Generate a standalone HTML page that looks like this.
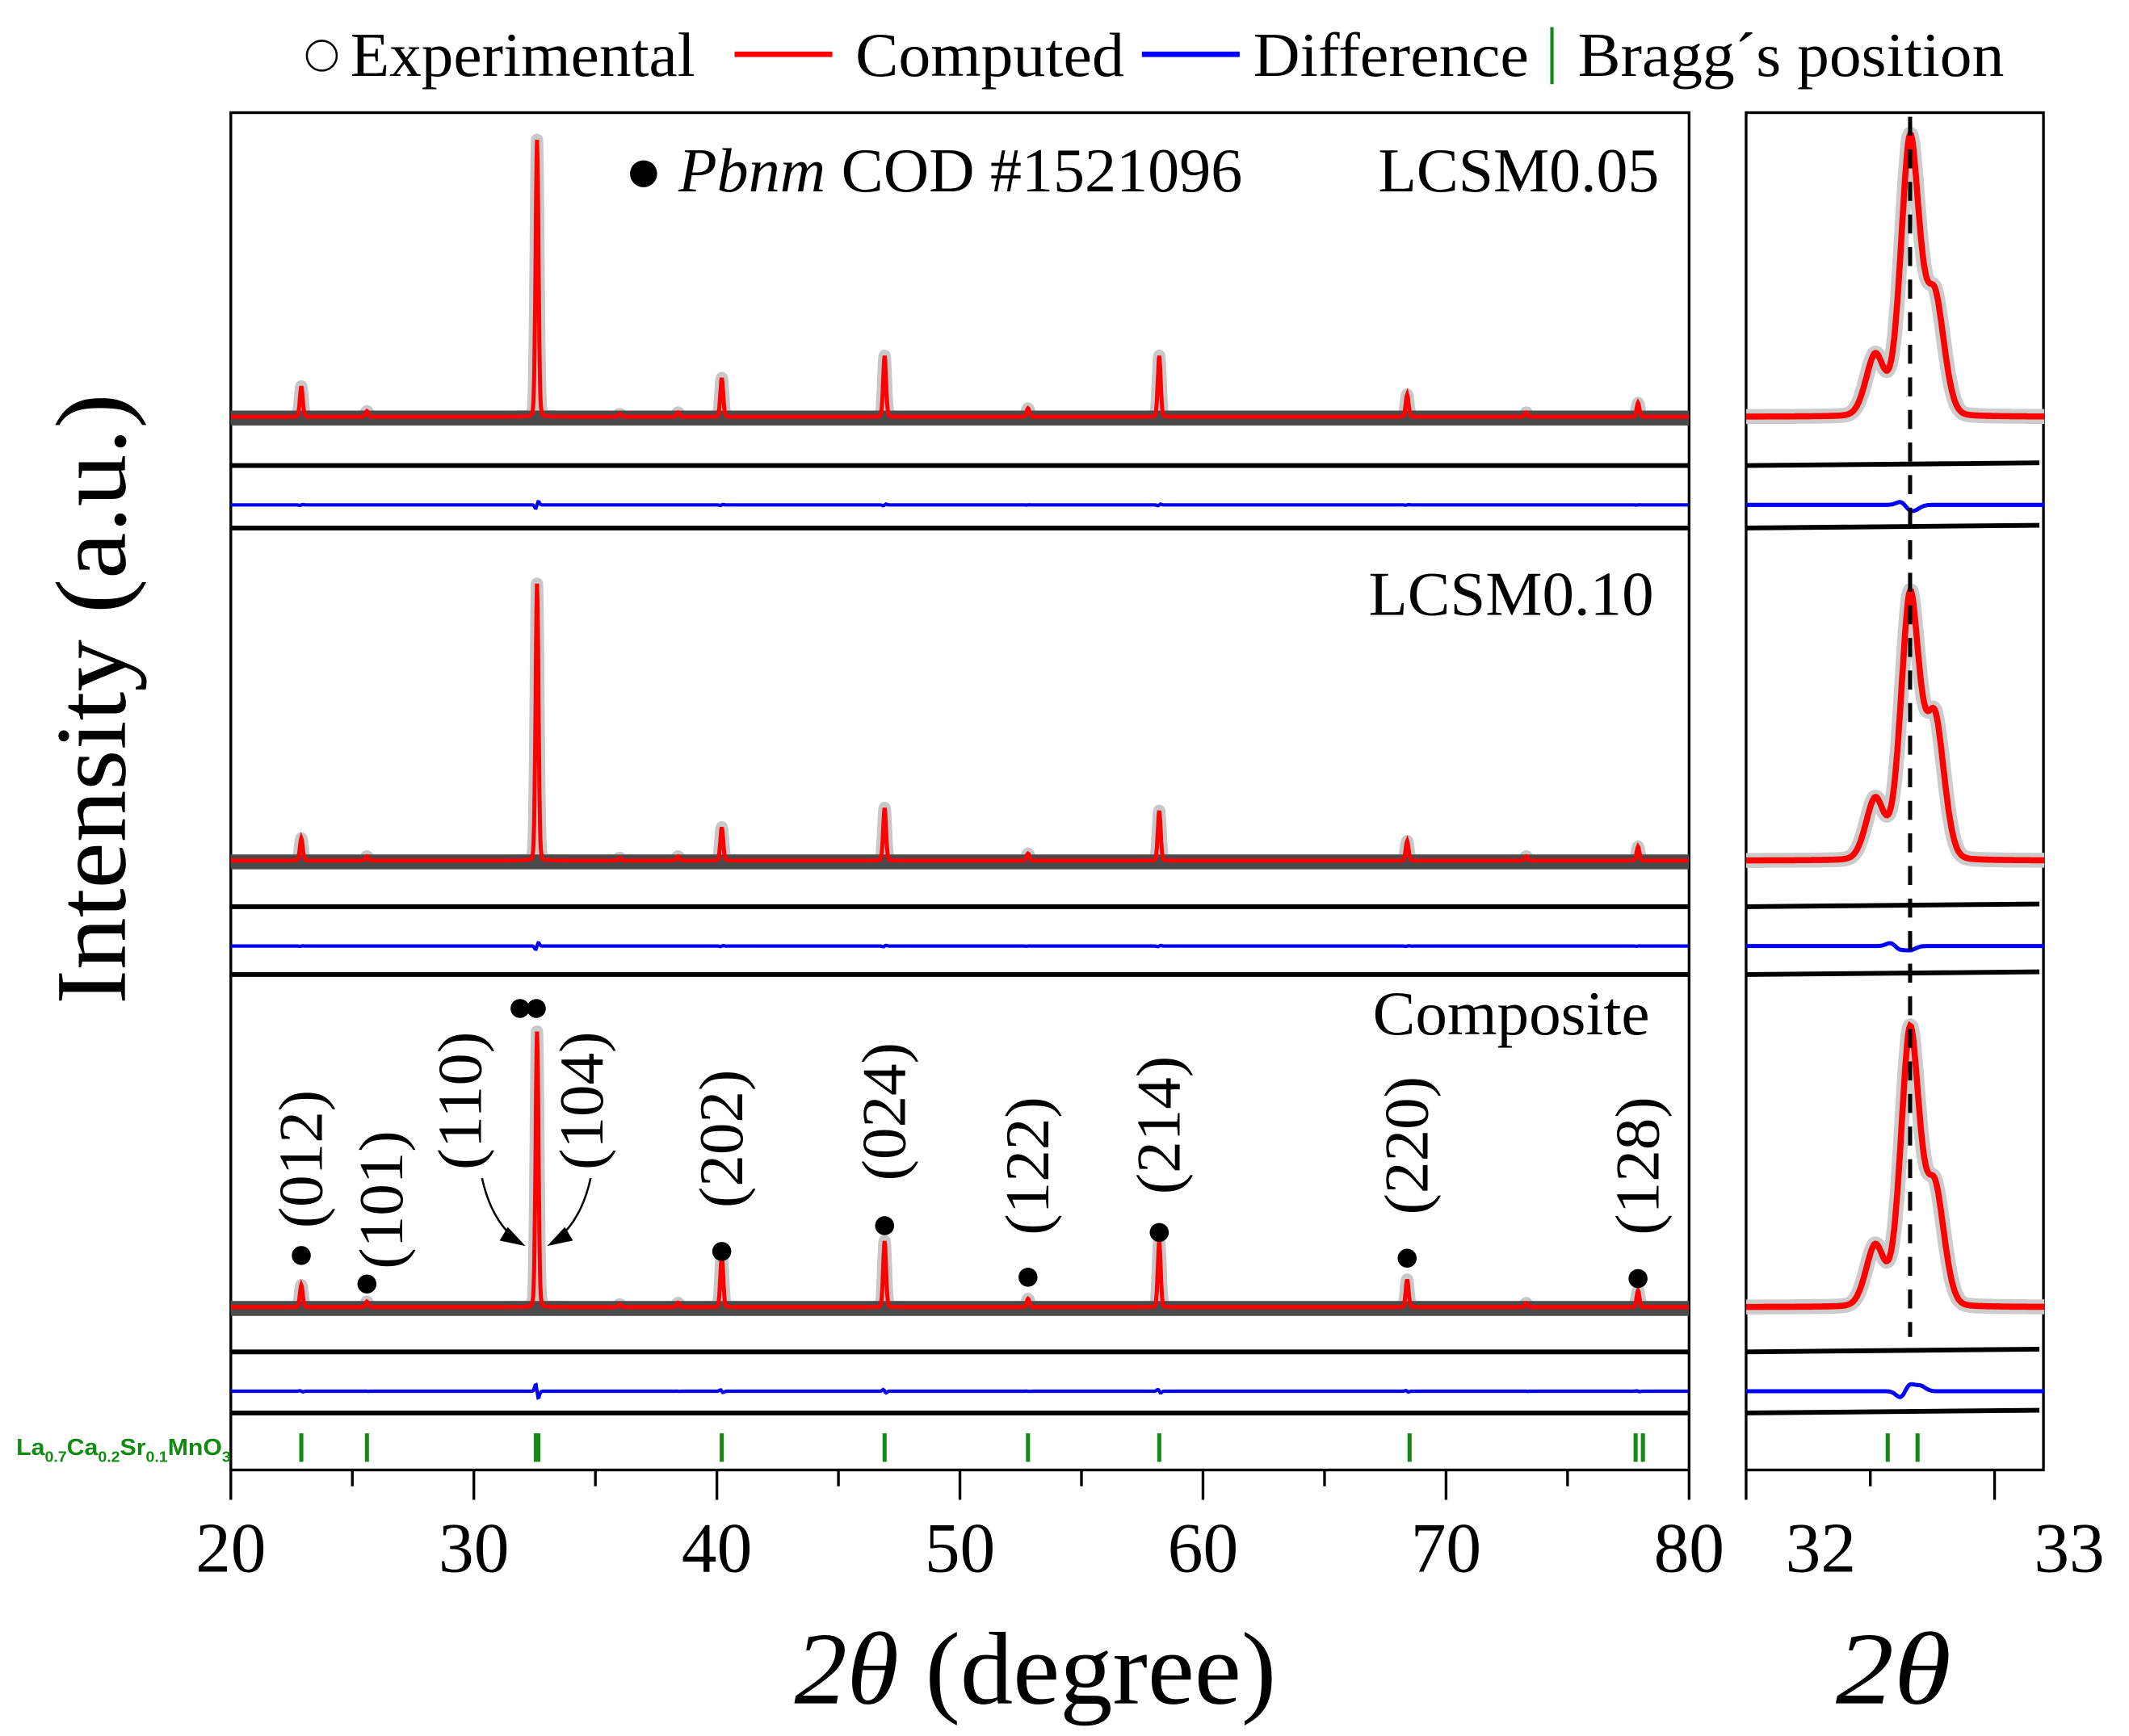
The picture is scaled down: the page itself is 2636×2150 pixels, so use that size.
<!DOCTYPE html>
<html><head><meta charset="utf-8"><style>
html,body{margin:0;padding:0;background:#fff;}
svg{display:block;}
text{font-family:"Liberation Serif",serif;fill:#000;}
</style></head><body>
<svg id="chart" width="2636" height="2150" viewBox="0 0 1568 1279" preserveAspectRatio="none" xmlns="http://www.w3.org/2000/svg">
<g id="legend" font-size="46">
 <g><circle cx="237" cy="41" r="11" fill="none" stroke="#000" stroke-width="1.5"/><text x="258" y="56" textLength="254" lengthAdjust="spacingAndGlyphs">Experimental</text></g>
 <g><line x1="541" y1="40" x2="613" y2="40" stroke="#f00" stroke-width="4"/><text x="630" y="56" textLength="198" lengthAdjust="spacingAndGlyphs">Computed</text></g>
 <g><line x1="841" y1="40" x2="913" y2="40" stroke="#00f" stroke-width="4"/><text x="923" y="56" textLength="203" lengthAdjust="spacingAndGlyphs">Difference</text></g>
 <g><line x1="1143" y1="20" x2="1143" y2="62" stroke="#138a13" stroke-width="2.5"/><text x="1162" y="56" textLength="314" lengthAdjust="spacingAndGlyphs">Bragg´s position</text></g>
</g>
<g id="plot"></g>
<text x="460" y="141" font-size="46" textLength="455" lengthAdjust="spacingAndGlyphs">● <tspan font-style="italic">Pbnm</tspan> COD #1521096</text>
<text x="1015" y="141" font-size="46" textLength="207" lengthAdjust="spacingAndGlyphs">LCSM0.05</text>
<text x="1008" y="453" font-size="46" textLength="210" lengthAdjust="spacingAndGlyphs">LCSM0.10</text>
<text x="1011" y="762" font-size="46" textLength="204" lengthAdjust="spacingAndGlyphs">Composite</text>
<text x="12" y="1072" font-size="17" font-weight="bold" textLength="158" lengthAdjust="spacingAndGlyphs" style="font-family:'Liberation Sans',sans-serif;fill:#138a13">La<tspan font-size="11" dy="5">0.7</tspan><tspan dy="-5">Ca</tspan><tspan font-size="11" dy="5">0.2</tspan><tspan dy="-5">Sr</tspan><tspan font-size="11" dy="5">0.1</tspan><tspan dy="-5">MnO</tspan><tspan font-size="11" dy="5">3</tspan></text>
<text transform="translate(92,515) rotate(-90)" font-size="74" text-anchor="middle" textLength="450" lengthAdjust="spacingAndGlyphs">Intensity (a.u.)</text>
<text x="585" y="1255" font-size="76" textLength="355" lengthAdjust="spacingAndGlyphs"><tspan font-style="italic">2θ</tspan> (degree)</text>
<text x="1352" y="1255" font-size="76" font-style="italic" textLength="85" lengthAdjust="spacingAndGlyphs">2θ</text>
</svg>
<script>
// ---- data ----
const peakPos = [22.9, 25.6, 32.6, 36.0, 38.4, 40.2, 46.9, 52.8, 58.2, 68.4, 73.3, 77.9];
const heights005 = [0.11, 0.02, 1.0, 0.01, 0.015, 0.14, 0.22, 0.03, 0.22, 0.08, 0.015, 0.05];
const heights010 = [0.08, 0.015, 1.0, 0.01, 0.015, 0.12, 0.19, 0.025, 0.18, 0.07, 0.015, 0.05];
const heightsComp = [0.08, 0.02, 1.0, 0.01, 0.015, 0.19, 0.24, 0.03, 0.24, 0.10, 0.015, 0.06];
const insetPos = [32.52, 32.66, 32.76];
const inset005 = [0.22, 1.0, 0.42];
const inset010 = [0.22, 0.95, 0.5];
const insetComp = [0.22, 1.0, 0.42];
const insetCenters = [32.66, 32.66, 32.66];
const braggMain = [22.9, 25.6, 32.55, 32.65, 40.2, 46.9, 52.8, 58.2, 68.5, 77.8, 78.1];
const braggInset = [32.57, 32.69];
const hklLabels = ["(012)","(101)","(110)","(104)","(202)","(024)","(122)","(214)","(220)","(128)"];
const hklPos = [22.9, 25.6, 31.9, 32.6, 40.2, 46.9, 52.8, 58.2, 68.4, 77.9];
const xTicks = [20,30,40,50,60,70,80];
const insetTicks = [32,33];
// ---- layout ----
const NS="http://www.w3.org/2000/svg";
const g=document.getElementById('plot');
const X0=170,X1=1244, IX0=1286, IX1=1505;
const xs=v=>X0+(v-20)/60*(X1-X0);
const xi=v=>IX0+(v-32)*183;
const panels=[{base:307,top:103,diff:372,sep1:343,sep2:389,h:heights005,ih:inset005,ic:[32.64,32.68]},
 {base:634,top:430,diff:697,sep1:668,sep2:718,h:heights010,ih:inset010,ic:[32.6,32.66]},
 {base:963,top:760,diff:1025,sep1:996,sep2:1041,h:heightsComp,ih:insetComp,ic:[32.64,32.7]}];
function el(t,a,p){const e=document.createElementNS(NS,t);for(const k in a)e.setAttribute(k,a[k]);(p||g).appendChild(e);return e;}
function prof(x,pos,h,w){let s=0;for(let i=0;i<pos.length;i++){const d=(x-pos[i])/w;s+=h[i]/(1+d*d*3)*0.15+h[i]*Math.exp(-d*d)*0.85;}return s;}
function path(pts){return 'M'+pts.map(p=>p[0].toFixed(1)+','+p[1].toFixed(1)).join('L');}
let f=el('rect',{x:X0,y:83,width:X1-X0,height:1000,fill:'none',stroke:'#000','stroke-width':2});

f=el('rect',{x:IX0,y:83,width:IX1-IX0,height:1000,fill:'none',stroke:'#000','stroke-width':2});

panels.forEach((p,k)=>{
 const amp=p.base-p.top;
 const ptsM=[],ptsI=[],dM=[],dI=[];
 for(let v=20;v<=80;v+=0.02){ptsM.push([xs(v),p.base-amp*prof(v,peakPos,p.h,0.085)]);}
 for(let v=32;v<=33.2;v+=0.004){ptsI.push([xi(v),p.base-amp*prof(v,insetPos,p.ih,0.055)]);}
 for(let v=20;v<=80;v+=0.04){let d=0;peakPos.forEach((q,i)=>{const t=(v-q)/0.08;d+=-p.h[i]*(k==2?-12:6)*t*Math.exp(-t*t);});dM.push([xs(v),p.diff+d]);}
 for(let v=32;v<=33.2;v+=0.004){const t=(v-p.ic[0])/0.03,u=(v-p.ic[1])/0.03;const d=(k==2?-10:5)*t*Math.exp(-t*t)+(k==2?-4:3)*Math.exp(-u*u);dI.push([xi(v),p.diff+d]);}
 let e;
 e=el('path',{d:path(ptsM),fill:'none',stroke:'#c8c8c8','stroke-width':9,'stroke-linejoin':'round'});
 e=el('line',{x1:X0,y1:p.base+1,x2:X1,y2:p.base+1,stroke:'#4a4a4a','stroke-width':11});
 e=el('path',{d:path(ptsM),fill:'none',stroke:'#f00','stroke-width':3});
 e=el('path',{d:path(ptsI),fill:'none',stroke:'#ccc','stroke-width':11,'stroke-linejoin':'round'});
 e=el('path',{d:path(ptsI),fill:'none',stroke:'#f00','stroke-width':4.5});
 e=el('path',{d:path(dM),fill:'none',stroke:'#00f','stroke-width':2.5});
 e=el('path',{d:path(dI),fill:'none',stroke:'#00f','stroke-width':3});
 [p.sep1,p.sep2].forEach(y=>{e=el('line',{x1:X0,y1:y,x2:X1,y2:y,stroke:'#000','stroke-width':3.5});
  e=el('line',{x1:IX0,y1:y,x2:IX1-3,y2:y-2,stroke:'#000','stroke-width':3.5});});
});
let dl=el('line',{x1:xi(insetCenters[0]),y1:86,x2:xi(insetCenters[0]),y2:985,stroke:'#000','stroke-width':3,'stroke-dasharray':'14 10'});

braggMain.forEach(v=>{const e=el('line',{x1:xs(v),y1:1056,x2:xs(v),y2:1077,stroke:'#138a13','stroke-width':3});});
braggInset.forEach(v=>{const e=el('line',{x1:xi(v),y1:1056,x2:xi(v),y2:1077,stroke:'#138a13','stroke-width':3});});
const hklTop=[905,935,860,860,890,870,910,880,895,910];
const dotY=[925,946,743,743,922,903,941,908,927,942];
hklLabels.forEach((l,i)=>{
 const x=xs(hklPos[i]);
 let tx=x+15, ty=hklTop[i];
 if(i==1){tx=x+26;}
 if(i==2){tx=xs(30.3);ty=862;} if(i==3){tx=xs(35.3);ty=862;}
 const t=el('text',{transform:`translate(${tx},${ty}) rotate(-90)`,'font-size':46,textLength:102,lengthAdjust:'spacingAndGlyphs'});t.textContent=l;
 
 if(i==2||i==3){const c=el('circle',{cx:i==2?383:395,cy:743,r:7,fill:'#000'});}
 else{const c=el('circle',{cx:x,cy:dotY[i],r:7,fill:'#000'});}
});
let a=el('path',{d:'M355,868 Q362,900 382,915',fill:'none',stroke:'#000','stroke-width':1.5});
a=el('path',{d:'M374,904 L387,918 L368,914Z',fill:'#000'});
a=el('path',{d:'M435,868 Q428,900 408,915',fill:'none',stroke:'#000','stroke-width':1.5});
a=el('path',{d:'M416,904 L403,918 L422,914Z',fill:'#000'});
for(let v=20;v<=80;v+=5){const maj=v%10==0;const e=el('line',{x1:xs(v),y1:1083,x2:xs(v),y2:1083+(maj?22:12),stroke:'#000','stroke-width':2});}
xTicks.forEach(v=>{const t=el('text',{x:xs(v),y:1158,'font-size':52,'text-anchor':'middle'});t.textContent=v;});
for(let v=32;v<=33.01;v+=0.5){const maj=Math.abs(v-Math.round(v))<0.01;const e=el('line',{x1:xi(v),y1:1083,x2:xi(v),y2:1083+(maj?22:12),stroke:'#000','stroke-width':2});}
insetTicks.forEach(v=>{const t=el('text',{x:v==32?xi(v)+55:xi(v)+55,y:1158,'font-size':52,'text-anchor':'middle'});t.textContent=v;});
</script>
</body></html>
